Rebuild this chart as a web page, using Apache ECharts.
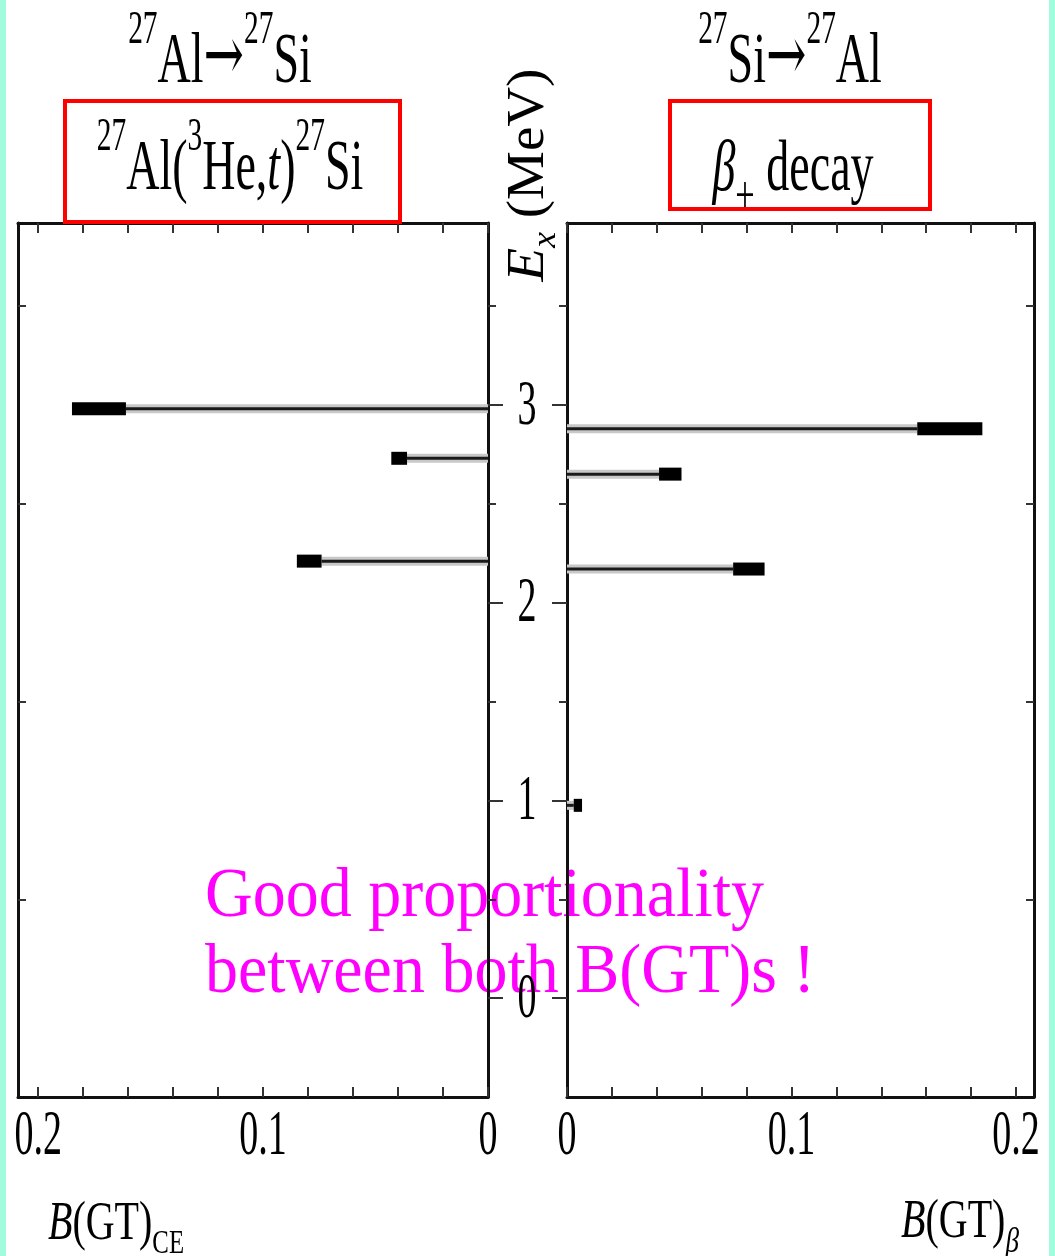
<!DOCTYPE html>
<html>
<head>
<meta charset="utf-8">
<title>B(GT) comparison</title>
<script src="https://cdn.jsdelivr.net/npm/echarts@6.0.0/dist/echarts.min.js"></script>
<style>
html, body { margin: 0; padding: 0; background: #fff; }
#main { width: 1055px; height: 1256px; }
</style>
</head>
<body>
<div id="main"></div>
<script>
// 数据：左边 (3He,t) 反应，右边 β+ 衰变。每个能级 = [能量, 线条终点, 黑块终点]
var ceEnergy = [2.98, 2.73, 2.21];
var ceLow = [0.161, 0.036, 0.074];
var ceHigh = [0.185, 0.043, 0.085];

var betaEnergy = [2.88, 2.65, 2.17, 0.975];
var betaLow = [0.156, 0.041, 0.074, 0.003];
var betaHigh = [0.185, 0.051, 0.088, 0.0067];

// 刻度
var xMinorTicks = [0, 0.02, 0.04, 0.06, 0.08, 0.1, 0.12, 0.14, 0.16, 0.18, 0.2];
var xTickLabels = [0, 0.1, 0.2];
var yMinorTicks = [0.5, 1.5, 2.5, 3.5];
var yTickLabels = [0, 1, 2, 3];

var yMin = -0.5, yMax = 3.92;

var chart = echarts.init(document.getElementById('main'));

// 文字测宽（画上下标用）
var measureCtx = document.createElement('canvas').getContext('2d');
function fontStr(size, italic, family) {
    return (italic ? 'italic ' : '') + size + 'px ' + (family || '"Liberation Serif", "DejaVu Serif", serif');
}
// tokens: [文字, 字号比例, 基线偏移(按字号), 斜体, 字体]
function richLabel(tokens, x, y, opt) {
    var base = opt.size;
    var widths = tokens.map(function (t) {
        measureCtx.font = fontStr(base * t[1], t[3], t[4]);
        return measureCtx.measureText(t[0]).width;
    });
    var total = widths.reduce(function (a, b) { return a + b; }, 0);
    var cursor = opt.align === 'left' ? 0 : (opt.align === 'right' ? -total : -total / 2);
    var children = tokens.map(function (t, i) {
        var s = base * t[1];
        var el = {
            type: 'text',
            x: cursor,
            y: -0.3 * s + t[2] * base,
            style: {
                text: t[0],
                font: fontStr(s, t[3], t[4]),
                fill: opt.color || '#000',
                textAlign: 'left', align: 'left',
                textVerticalAlign: 'middle', verticalAlign: 'middle'
            }
        };
        cursor += widths[i];
        return el;
    });
    return {
        type: 'group', x: x, y: y,
        scaleX: opt.sx || 1, scaleY: opt.sy || 1,
        rotation: opt.rotation || 0,
        z: 10,
        children: children
    };
}

// 能级：细线 + 黑块
function renderLevel(params, api) {
    var lo = api.value(0), e = api.value(1), hi = api.value(2);
    var p0 = api.coord([0, e]);
    var p1 = api.coord([lo, e]);
    var p2 = api.coord([hi, e]);
    var h = 13;
    return {
        type: 'group',
        children: [
            { type: 'line', shape: { x1: p0[0], y1: p0[1], x2: p1[0], y2: p1[1] }, style: { stroke: '#c8c8c8', lineWidth: 9 } },
            { type: 'line', shape: { x1: p0[0], y1: p0[1], x2: p1[0], y2: p1[1] }, style: { stroke: '#1a1a1a', lineWidth: 3 } },
            { type: 'rect', shape: { x: Math.min(p1[0], p2[0]), y: p1[1] - h / 2, width: Math.abs(p2[0] - p1[0]), height: h }, style: { fill: '#000' } }
        ]
    };
}

var frameLine = { show: true, onZero: false, lineStyle: { color: '#111', width: 3 } };
var tickStyle = { color: '#333', width: 2 };

function xAx(grid, pos, max, inverse) {
    return {
        type: 'value', gridIndex: grid, position: pos, min: 0, max: max, inverse: inverse,
        axisLine: frameLine,
        axisTick: { show: true, inside: true, length: 10, customValues: xMinorTicks, lineStyle: tickStyle },
        axisLabel: { show: false },
        splitLine: { show: false }
    };
}
function yAx(grid, pos, ticks, len, inside, line) {
    return {
        type: 'value', gridIndex: grid, position: pos, min: yMin, max: yMax,
        axisLine: line ? frameLine : { show: false },
        axisTick: { show: true, inside: inside, length: len, customValues: ticks, lineStyle: tickStyle },
        axisLabel: { show: false },
        splitLine: { show: false }
    };
}

var option = {
    backgroundColor: '#fff',
    animation: false,
    grid: [
        { left: 18, top: 223, width: 470, height: 874 },
        { left: 567, top: 223, width: 467, height: 874 }
    ],
    xAxis: [
        xAx(0, 'bottom', 0.209, true),
        xAx(0, 'top', 0.209, true),
        xAx(1, 'bottom', 0.208, false),
        xAx(1, 'top', 0.208, false)
    ],
    yAxis: [
        yAx(0, 'left', yMinorTicks, 8, true, true),
        yAx(0, 'left', yTickLabels, 15, true, false),
        yAx(0, 'right', yMinorTicks, 8, false, true),
        yAx(0, 'right', yTickLabels, 15, false, false),
        yAx(1, 'left', yMinorTicks, 8, false, true),
        yAx(1, 'left', yTickLabels, 15, false, false),
        yAx(1, 'right', yMinorTicks, 8, true, true),
        yAx(1, 'right', yTickLabels, 15, true, false)
    ],
    series: [
        {
            name: 'B(GT)CE', type: 'custom', xAxisIndex: 0, yAxisIndex: 0,
            renderItem: renderLevel,
            encode: { x: [0, 2], y: 1 },
            data: ceEnergy.map(function (e, i) { return [ceLow[i], e, ceHigh[i]]; })
        },
        {
            name: 'B(GT)beta', type: 'custom', xAxisIndex: 2, yAxisIndex: 4,
            renderItem: renderLevel,
            encode: { x: [0, 2], y: 1 },
            data: betaEnergy.map(function (e, i) { return [betaLow[i], e, betaHigh[i]]; })
        }
    ]
};
chart.setOption(option);

// 文字（原图被纵向拉伸，用 scaleY 模拟）
var T = 46, TS = 1.58;
var sup = 0.64, supDy = -0.55;
var arrow = ['\u2192', 1.05, -0.02, false, '"DejaVu Serif", serif'];
var graphics = [
    { type: 'rect', shape: { x: 0, y: 0, width: 6, height: 1256 }, style: { fill: '#a0fcdc' } },
    { type: 'rect', shape: { x: 1049, y: 0, width: 6, height: 1256 }, style: { fill: '#a0fcdc' } },
    { type: 'rect', z: 5, shape: { x: 65, y: 101, width: 335, height: 121 }, style: { fill: 'none', stroke: '#ff0000', lineWidth: 4 } },
    { type: 'rect', z: 5, shape: { x: 670, y: 101, width: 260, height: 108 }, style: { fill: 'none', stroke: '#ff0000', lineWidth: 4 } },
    richLabel([['27', sup, supDy, false], ['Al', 1, 0, false], arrow, ['27', sup, supDy, false], ['Si', 1, 0, false]], 220, 85, { size: T, sy: TS }),
    richLabel([['27', sup, supDy, false], ['Si', 1, 0, false], arrow, ['27', sup, supDy, false], ['Al', 1, 0, false]], 790, 85, { size: T, sy: TS }),
    richLabel([['27', sup, supDy, false], ['Al(', 1, 0, false], ['3', sup, supDy, false], ['He,', 1, 0, false], ['t', 1, 0, true], [')', 1, 0, false], ['27', sup, supDy, false], ['Si', 1, 0, false]], 230, 192, { size: T, sy: TS }),
    richLabel([['\u03b2', 1, 0, true], ['+', 0.75, 0.3, false], [' decay', 1, 0, false]], 793, 193, { size: T, sy: TS }),
    richLabel([['B', 1, 0, true], ['(GT)', 1, 0, false], ['CE', 0.62, 0.24, false]], 116, 1241, { size: 40, sy: 1.35 }),
    richLabel([['B', 1, 0, true], ['(GT)', 1, 0, false], ['\u03b2', 0.68, 0.27, true]], 960, 1239, { size: 40, sy: 1.35 }),
    richLabel([['E', 1, 0, true], ['x', 0.65, 0.22, true], [' (MeV)', 1, 0, false]], 545, 175, { size: 50, sx: 1.1, sy: 1.05, rotation: Math.PI / 2 }),
    richLabel([['Good proportionality', 1, 0, false]], 205, 919, { size: 66, sy: 1.06, align: 'left', color: '#ff00ff' }),
    richLabel([['between both B(GT)s !', 1, 0, false]], 205, 995, { size: 66, sy: 1.06, align: 'left', color: '#ff00ff' })
];

// 刻度数字：位置由坐标轴换算
xTickLabels.forEach(function (v) {
    var txt = v === 0 ? '0' : v.toFixed(1);
    var xl = chart.convertToPixel({ xAxisIndex: 0 }, v);
    var xr = chart.convertToPixel({ xAxisIndex: 2 }, v);
    graphics.push(richLabel([[txt, 1, 0, false]], xl, 1156, { size: 38, sy: 1.65 }));
    graphics.push(richLabel([[txt, 1, 0, false]], xr, 1156, { size: 38, sy: 1.65 }));
});
yTickLabels.forEach(function (v) {
    var yp = chart.convertToPixel({ yAxisIndex: 4 }, v);
    graphics.push(richLabel([[String(v), 1, 0, false]], 527, yp + 21, { size: 38, sy: 1.65 }));
});

chart.setOption({ graphic: { elements: graphics } });

window.onresize = function () {
    chart.resize();
};
</script>
</body>
</html>
